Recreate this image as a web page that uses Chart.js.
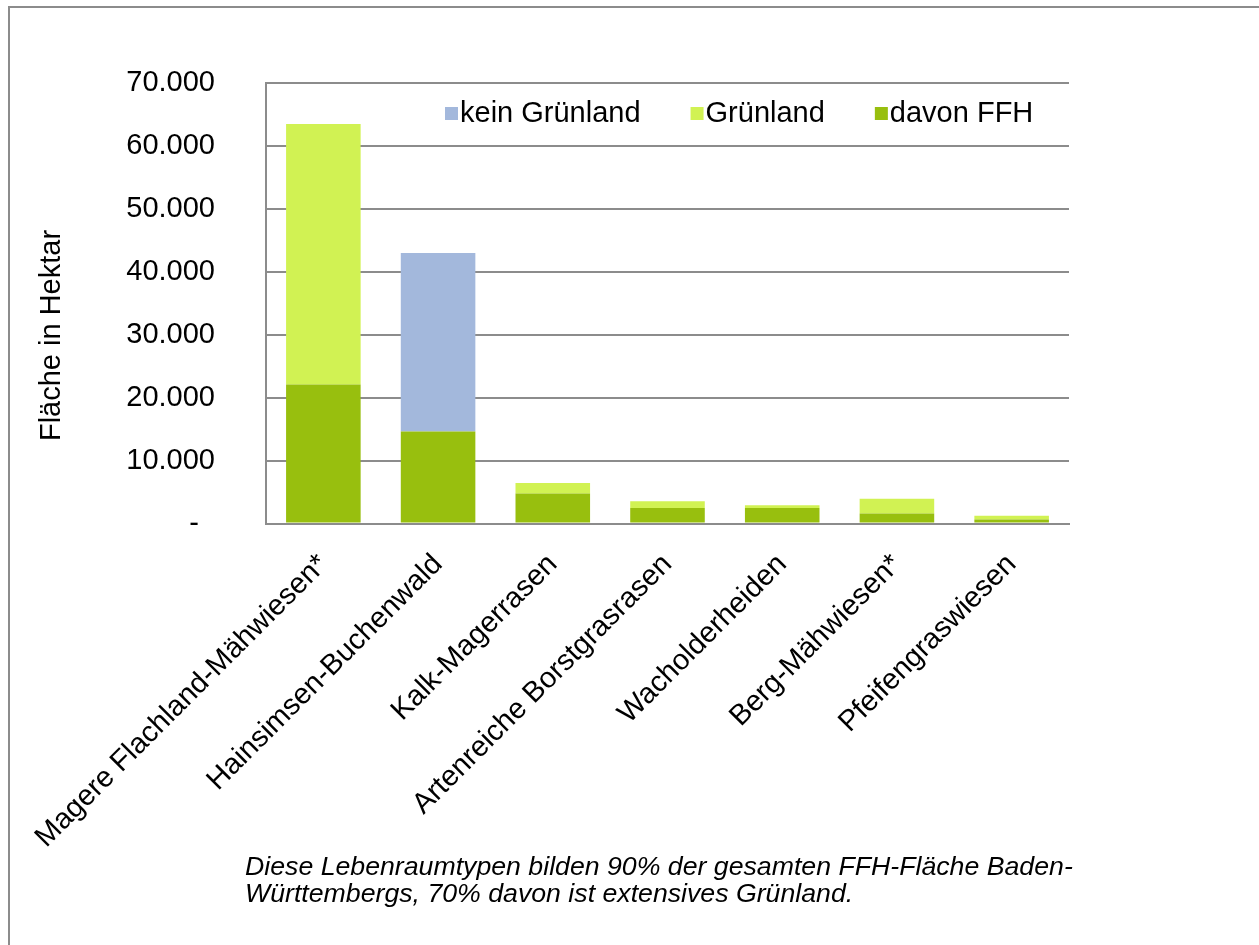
<!DOCTYPE html>
<html>
<head>
<meta charset="utf-8">
<script src="https://cdn.jsdelivr.net/npm/chart.js@4/dist/chart.umd.min.js"></script>
<style>
  html, body { margin: 0; padding: 0; background: #fff; }
  #wrap { position: relative; width: 1259px; height: 945px; overflow: hidden; }
  #frame { position: absolute; left: 8px; top: 6px; width: 1400px; height: 1100px;
           border-left: 2px solid #8c8c8c; border-top: 2px solid #8c8c8c; }
  #box { position: absolute; left: 0; top: 0; width: 1259px; height: 945px; }
  #note { position: absolute; left: 245px; top: 853px; color: #000;
          font: italic 26.7px "Liberation Sans", Arial, sans-serif; line-height: 27px; }
</style>
</head>
<body>
<div id="wrap">
  <div id="frame"></div>
  <div id="box"><canvas id="chart"></canvas></div>
  <div id="note">Diese Lebenraumtypen bilden 90% der gesamten FFH-Fläche Baden-<br>Württembergs, 70% davon ist extensives Grünland.</div>
</div>
<script>
// categories and stacked segment values (hectares)
const categories = [
  'Magere Flachland-Mähwiesen*',
  'Hainsimsen-Buchenwald',
  'Kalk-Magerrasen',
  'Artenreiche Borstgrasrasen',
  'Wacholderheiden',
  'Berg-Mähwiesen*',
  'Pfeifengraswiesen'
];
const davonFFH      = [22100, 14600, 4750, 2450, 2450, 1600, 640];
const gruenland     = [41400,     0, 1700, 1100,  450, 2350, 600];
const keinGruenland = [    0, 28400,    0,    0,    0,    0,   0];
const yTickValues   = [0, 10000, 20000, 30000, 40000, 50000, 60000, 70000];

const FONT = '"Liberation Sans", Arial, sans-serif';
const GRID = '#8c8c8c';
Chart.defaults.font.family = FONT;
Chart.defaults.color = '#000';

// legend drawn inside the plot area, like the original
const insideLegend = {
  id: 'insideLegend',
  afterDraw(chart) {
    const ctx = chart.ctx;
    const area = chart.chartArea;
    ctx.save();
    ctx.font = '29px ' + FONT;
    ctx.textBaseline = 'middle';
    let x = area.left + 179;
    const y = area.top + 31;
    chart.data.datasets.slice().reverse().forEach(ds => {
      ctx.fillStyle = ds.backgroundColor;
      ctx.fillRect(x, y - 7, 13, 13);
      ctx.fillStyle = '#000';
      ctx.fillText(ds.label, x + 15, y);
      x += 15 + ctx.measureText(ds.label).width + 50;
    });
    ctx.restore();
  }
};

new Chart(document.getElementById('chart'), {
  type: 'bar',
  data: {
    labels: categories,
    datasets: [
      { label: 'davon FFH', data: davonFFH, backgroundColor: '#98bf0e' },
      { label: 'Grünland', data: gruenland, backgroundColor: '#d1f253' },
      { label: 'kein Grünland', data: keinGruenland, backgroundColor: '#a3b8dc' }
    ]
  },
  options: {
    responsive: true,
    maintainAspectRatio: false,
    animation: false,
    datasets: { bar: { barPercentage: 0.65, categoryPercentage: 1 } },
    layout: { padding: { left: 0, top: 83, right: 190, bottom: 0 } },
    scales: {
      x: {
        stacked: true,
        grid: { display: false },
        border: { color: GRID, width: 2 },
        ticks: { minRotation: 45, maxRotation: 45, padding: 16, font: { size: 29 }, color: '#000' },
        // long rotated labels may run past the left edge, as in the original
        afterFit: s => { s.height = 421.5; s.paddingLeft = 0; s.paddingRight = 0; }
      },
      y: {
        stacked: true,
        min: 0,
        max: 70000,
        afterBuildTicks: s => { s.ticks = yTickValues.map(v => ({ value: v })); },
        ticks: {
          padding: 51,
          font: { size: 29 },
          color: '#000',
          callback: v => v === 0 ? '-\u2007' : v.toLocaleString('de-DE')
        },
        grid: { color: GRID, lineWidth: 2, drawTicks: false },
        border: { color: GRID, width: 2 },
        title: {
          display: true,
          text: 'Fläche in Hektar' + '\u00a0'.repeat(8),
          font: { size: 29 },
          color: '#000',
          padding: { top: 35, bottom: 0 }
        },
        afterFit: s => { s.width = 266; }
      }
    },
    plugins: {
      legend: { display: false },
      tooltip: { enabled: false }
    }
  },
  plugins: [insideLegend]
});
</script>
</body>
</html>
